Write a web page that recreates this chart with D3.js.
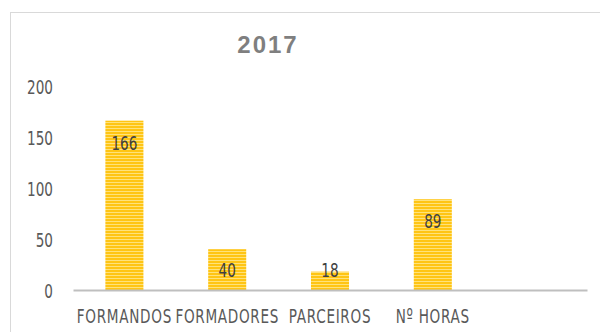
<!DOCTYPE html>
<html>
<head>
<meta charset="utf-8">
<script src="https://cdn.jsdelivr.net/npm/d3@7/dist/d3.min.js"></script>
<style>
  html, body { margin: 0; padding: 0; background: #fff; }
  svg { display: block; }
</style>
</head>
<body>
<svg id="chart" width="600" height="332"></svg>
<script>
// Chart data
const title = "2017";
const categories = ["FORMANDOS", "FORMADORES", "PARCEIROS", "Nº HORAS", ""];
const values = [166, 40, 18, 89, null];
const yTicks = [0, 50, 100, 150, 200];

const svg = d3.select("#chart");
const W = 600, H = 332;
const font = "'DejaVu Sans', sans-serif";
const narrow = "scale(0.68,1)";   // condensed look for labels

// Outer chart frame
svg.append("rect")
  .attr("x", 10.5).attr("y", 12.5)
  .attr("width", W + 10).attr("height", H)
  .attr("fill", "#fff").attr("stroke", "#d9d9d9");

// Striped yellow fill
const defs = svg.append("defs");
const pat = defs.append("pattern")
  .attr("id", "stripes")
  .attr("patternUnits", "userSpaceOnUse")
  .attr("width", 6).attr("height", 3);
pat.append("rect").attr("width", 6).attr("height", 3).attr("fill", "#ffe27a");
pat.append("rect").attr("width", 6).attr("height", 2).attr("fill", "#ffc514");

const x = d3.scaleBand()
  .domain(categories.map((c, i) => i))
  .range([73, 587])
  .paddingInner(0.63)
  .paddingOuter(0.315);

const y = d3.scaleLinear().domain([0, 200]).range([290, 86]);

// Title
svg.append("text")
  .attr("x", 268).attr("y", 53)
  .attr("text-anchor", "middle")
  .attr("font-family", "'Liberation Sans', Arial, sans-serif")
  .attr("font-weight", "bold")
  .attr("font-size", 24)
  .attr("letter-spacing", 2)
  .attr("fill", "#7f7f7f")
  .text(title);

// Y axis (labels only)
const yAxis = d3.axisLeft(y).tickValues(yTicks).tickSize(0).tickPadding(0);
const yg = svg.append("g").attr("transform", "translate(53,0)").call(yAxis);
yg.select(".domain").remove();
yg.selectAll("text")
  .attr("dy", "0.36em")
  .attr("transform", narrow)
  .attr("font-family", font).attr("font-size", 20)
  .attr("fill", "#595959");

// Bars
const data = categories.map((c, i) => ({ i, c, v: values[i] })).filter(d => d.v != null);
svg.append("g").selectAll("rect")
  .data(data).join("rect")
  .attr("x", d => x(d.i))
  .attr("y", d => y(d.v))
  .attr("width", x.bandwidth())
  .attr("height", d => y(0) - y(d.v))
  .attr("fill", "url(#stripes)");

// Value labels
svg.append("g").selectAll("g")
  .data(data).join("g")
  .attr("transform", d => `translate(${x(d.i) + x.bandwidth() / 2},${Math.min(y(d.v) + 22, y(0) - 20) + 7})`)
  .append("text")
  .attr("transform", narrow)
  .attr("text-anchor", "middle")
  .attr("font-family", font).attr("font-size", 20)
  .attr("fill", "#404040")
  .text(d => d.v);

// X axis
const xAxis = d3.axisBottom(x).tickSize(0).tickPadding(0).tickFormat(i => categories[i]);
const xg = svg.append("g").attr("transform", "translate(0,290)").call(xAxis);
xg.select(".domain").attr("stroke", "#bfbfbf").attr("stroke-width", 2);
xg.selectAll("text")
  .attr("y", 33)
  .attr("dy", 0)
  .attr("transform", narrow)
  .attr("font-family", font).attr("font-size", 20)
  .attr("letter-spacing", 1)
  .attr("fill", "#595959");
</script>
</body>
</html>
